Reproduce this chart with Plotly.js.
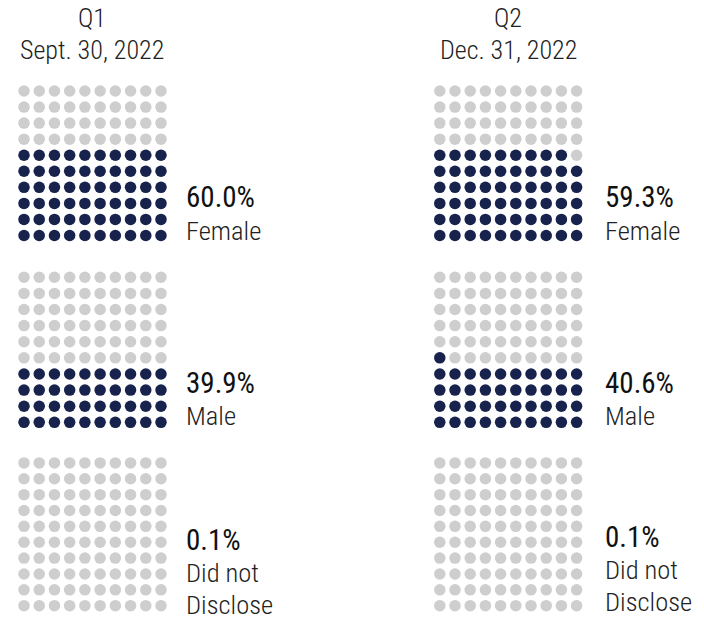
<!DOCTYPE html>
<html>
<head>
<meta charset="utf-8">
<script src="https://cdn.plot.ly/plotly-3.0.1.min.js"></script>
<style>html,body{margin:0;padding:0;background:#fff;}#chart{width:704px;height:618px;}</style>
</head>
<body>
<div id="chart"></div>
<script>
// ---- data ----
const periods = ["Q1", "Q2"];
const periodDates = ["Sept. 30, 2022", "Dec. 31, 2022"];
const categories = ["Female", "Male", "Did not Disclose"];
const categoryLabels = [["Female"], ["Male"], ["Did not", "Disclose"]];
const q1Percent = [60.0, 39.9, 0.1];
const q2Percent = [59.3, 40.6, 0.1];
const percentSeries = [q1Percent, q2Percent];

// ---- layout constants ----
const W = 704, H = 618;
const FILL = "#17234d";
const EMPTY = "#cfcecf";
const gridX = [[16.4, 168.6], [432.2, 584.2]];
const gridY = [[83, 243.5], [269.2, 430.4], [455, 613.6]];
const textX = [184, 603];
const pctY = [[197, 383, 540], [197, 383, 537]];
const labelY0 = [[230, 415, 572], [230, 415, 569]];
const lineGap = 32;
const FONT = "'Roboto Condensed', 'Liberation Sans Narrow', Roboto, sans-serif";

const traces = [];
const layout = {
  width: W, height: H,
  margin: {l: 0, r: 0, t: 0, b: 0},
  paper_bgcolor: "#fff", plot_bgcolor: "#fff",
  showlegend: false,
  annotations: []
};

let ax = 0;
percentSeries.forEach((vals, p) => {
  vals.forEach((pct, c) => {
    ax++;
    const xa = "x" + (ax === 1 ? "" : ax), ya = "y" + (ax === 1 ? "" : ax);
    const nFilled = Math.round(pct);
    const fx = [], fy = [], ex = [], ey = [];
    for (let i = 0; i < 100; i++) {
      const col = i % 10, row = Math.floor(i / 10);
      if (i < nFilled) { fx.push(col); fy.push(row); } else { ex.push(col); ey.push(row); }
    }
    traces.push({type: "scatter", mode: "markers", x: ex, y: ey, xaxis: xa, yaxis: ya,
      marker: {color: EMPTY, size: 11.5}, hoverinfo: "skip"});
    traces.push({type: "scatter", mode: "markers", x: fx, y: fy, xaxis: xa, yaxis: ya,
      marker: {color: FILL, size: 11.5}, hoverinfo: "skip"});
    const axisBase = {showgrid: false, zeroline: false, showticklabels: false, ticks: "", fixedrange: true};
    layout["xaxis" + (ax === 1 ? "" : ax)] = Object.assign({}, axisBase, {
      range: [-0.5, 9.5], domain: [gridX[p][0] / W, gridX[p][1] / W], anchor: ya});
    layout["yaxis" + (ax === 1 ? "" : ax)] = Object.assign({}, axisBase, {
      range: [-0.5, 9.5], domain: [1 - gridY[c][1] / H, 1 - gridY[c][0] / H], anchor: xa});

    layout.annotations.push({xref: "paper", yref: "paper", x: textX[p] / W, y: 1 - pctY[p][c] / H,
      xanchor: "left", yanchor: "middle", showarrow: false, text: pct.toFixed(1) + "%",
      font: {family: FONT, size: 29, color: "#111", weight: 400}});
    categoryLabels[c].forEach((line, k) => {
      layout.annotations.push({xref: "paper", yref: "paper", x: (textX[p] + 1) / W,
        y: 1 - (labelY0[p][c] + k * lineGap) / H, height: 28, borderpad: 0,
        xanchor: "left", yanchor: "middle", showarrow: false, text: line,
        font: {family: FONT, size: 26.5, color: "#222", weight: 300}});
    });
  });
  const cx = (gridX[p][0] + gridX[p][1]) / 2;
  layout.annotations.push({xref: "paper", yref: "paper", x: cx / W, y: 1 - 18 / H,
    xanchor: "center", yanchor: "middle", showarrow: false, text: periods[p],
    font: {family: FONT, size: 26, color: "#222", weight: 300}});
  layout.annotations.push({xref: "paper", yref: "paper", x: cx / W, y: 1 - 50 / H,
    xanchor: "center", yanchor: "middle", showarrow: false, text: periodDates[p],
    font: {family: FONT, size: 26, color: "#222", weight: 300}});
});

Plotly.newPlot("chart", traces, layout, {displayModeBar: false, staticPlot: true});
</script>
</body>
</html>
